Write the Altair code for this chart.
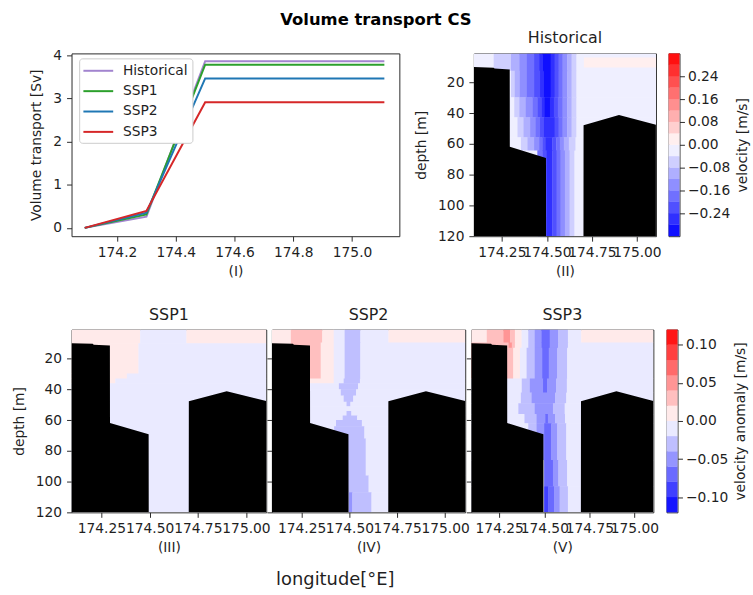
import altair as alt
import pandas as pd

FONT = "DejaVu Sans"
TXT = "#1f1f1f"
FRAME = "#2b2b2b"

# ------------------------------------------------------------------ data
# (I) volume transport [Sv]
TRANSPORT_LON = [174.09, 174.30, 174.50, 175.11]
TRANSPORT_HIST = [0.00, 0.26, 3.86, 3.86]
TRANSPORT_SSP1 = [0.00, 0.31, 3.78, 3.78]
TRANSPORT_SSP2 = [0.00, 0.35, 3.46, 3.46]
TRANSPORT_SSP3 = [0.00, 0.39, 2.91, 2.91]
SCENARIOS = ["Historical", "SSP1", "SSP2", "SSP3"]
SCENARIO_COLORS = ["#a284cf", "#2ca02c", "#1f77b4", "#d62728"]
TRANSPORT_LON_TICKS = [174.2, 174.4, 174.6, 174.8, 175.0]
TRANSPORT_TICKS = [0, 1, 2, 3, 4]

# sections
LON_DOMAIN = [174.095, 175.105]
DEPTH_DOMAIN = [1.1, 120.0]
SECTION_LON_TICKS = [174.25, 174.50, 174.75, 175.00]
DEPTH_TICKS = [20, 40, 60, 80, 100, 120]

# bathymetry (sea floor depth along the section)
BATHY_LON = [174.095, 174.205, 174.21, 174.294, 174.2945, 174.495, 174.4955,
             174.703, 174.7035, 174.90, 175.105]
BATHY_DEPTH = [10.0, 10.4, 11.0, 11.5, 61.9, 69.2, 120.0, 120.0, 47.8, 41.2, 47.5]

VEL_LEVELS = [-0.32, -0.28, -0.24, -0.20, -0.16, -0.12, -0.08, -0.04, 0.00,
              0.04, 0.08, 0.12, 0.16, 0.20, 0.24, 0.28, 0.32]
VEL_TICKS = [-0.24, -0.16, -0.08, 0.00, 0.08, 0.16, 0.24]
ANOM_LEVELS = [-0.12, -0.10, -0.08, -0.06, -0.04, -0.02, 0.00, 0.02, 0.04,
               0.06, 0.08, 0.10, 0.12]
ANOM_TICKS = [-0.10, -0.05, 0.00, 0.05, 0.10]

# velocity fields: (depth top, depth bottom, [(lon start, value), ...])
HIST_LAYERS = [
    (1.1, 12.4, [(174.095, -0.02), (174.205, -0.06), (174.301, -0.10), (174.347, -0.14),
                 (174.389, -0.18), (174.429, -0.22), (174.457, -0.26), (174.475, -0.30),
                 (174.521, -0.26), (174.543, -0.22), (174.565, -0.18), (174.587, -0.14),
                 (174.613, -0.10), (174.637, -0.06), (174.664, -0.02)]),
    (12.4, 29.7, [(174.095, -0.02), (174.301, -0.06), (174.322, -0.10), (174.350, -0.14),
                  (174.389, -0.18), (174.429, -0.22), (174.462, -0.26), (174.481, -0.30),
                  (174.521, -0.26), (174.543, -0.22), (174.565, -0.18), (174.587, -0.14),
                  (174.613, -0.10), (174.637, -0.06), (174.664, -0.02)]),
    (29.7, 42.6, [(174.095, -0.02), (174.319, -0.06), (174.347, -0.10), (174.383, -0.14),
                  (174.420, -0.18), (174.447, -0.22), (174.470, -0.26), (174.488, -0.30),
                  (174.517, -0.26), (174.539, -0.22), (174.561, -0.18), (174.587, -0.14),
                  (174.613, -0.10), (174.637, -0.06), (174.664, -0.02)]),
    (42.6, 55.6, [(174.095, -0.02), (174.337, -0.06), (174.370, -0.10), (174.407, -0.14),
                  (174.438, -0.18), (174.462, -0.22), (174.484, -0.26), (174.543, -0.22),
                  (174.565, -0.18), (174.587, -0.14), (174.613, -0.10), (174.637, -0.06),
                  (174.664, -0.02)]),
    (55.6, 64.3, [(174.095, -0.02), (174.356, -0.06), (174.392, -0.10), (174.429, -0.14),
                  (174.457, -0.18), (174.475, -0.22), (174.493, -0.26), (174.530, -0.22),
                  (174.552, -0.18), (174.572, -0.14), (174.594, -0.10), (174.622, -0.06),
                  (174.659, -0.02)]),
    (64.3, 120.0, [(174.095, -0.02), (174.447, -0.18), (174.475, -0.22), (174.499, -0.26),
                   (174.530, -0.22), (174.554, -0.18), (174.576, -0.14), (174.600, -0.10),
                   (174.626, -0.06), (174.653, -0.02)]),
]
HIST_PATCHES = [(174.705, 175.105, 3.8, 10.3, 0.02)]

SSP1_LAYERS = [
    (1.1, 10.0, [(174.095, 0.01), (174.451, -0.01), (174.691, 0.01)]),
    (10.0, 29.7, [(174.095, 0.01), (174.442, -0.01)]),
    (29.7, 33.0, [(174.095, 0.01), (174.382, -0.01)]),
    (33.0, 36.0, [(174.095, 0.01), (174.322, -0.01)]),
    (36.0, 120.0, [(174.095, -0.01)]),
]

SSP2_LAYERS = [
    (1.1, 9.5, [(174.095, 0.01), (174.194, 0.03), (174.358, 0.01), (174.418, -0.01),
                (174.475, -0.03), (174.557, -0.01), (174.704, 0.01)]),
    (9.5, 33.0, [(174.095, 0.01), (174.194, 0.03), (174.350, 0.01), (174.418, -0.01),
                 (174.475, -0.03), (174.557, -0.01)]),
    (33.0, 36.0, [(174.095, 0.01), (174.418, -0.01), (174.470, -0.03), (174.555, -0.01)]),
    (36.0, 40.0, [(174.095, -0.01), (174.445, -0.03), (174.545, -0.01)]),
    (40.0, 44.0, [(174.095, -0.01), (174.455, -0.03), (174.535, -0.01)]),
    (44.0, 48.0, [(174.095, -0.01), (174.470, -0.03), (174.520, -0.01)]),
    (48.0, 51.0, [(174.095, -0.01), (174.485, -0.03), (174.505, -0.01)]),
    (51.0, 54.0, [(174.095, -0.01)]),
    (54.0, 57.0, [(174.095, -0.01), (174.485, -0.03), (174.510, -0.01)]),
    (57.0, 60.0, [(174.095, -0.01), (174.465, -0.03), (174.540, -0.01)]),
    (60.0, 64.0, [(174.095, -0.01), (174.430, -0.03), (174.565, -0.01)]),
    (64.0, 72.0, [(174.095, -0.01), (174.420, -0.03), (174.578, -0.01)]),
    (72.0, 96.0, [(174.095, -0.01), (174.480, -0.03), (174.585, -0.01)]),
    (96.0, 107.0, [(174.095, -0.01), (174.480, -0.03), (174.600, -0.01)]),
    (107.0, 120.0, [(174.095, -0.01), (174.496, -0.05), (174.515, -0.03), (174.615, -0.01)]),
]

SSP3_LAYERS = [
    (1.1, 9.5, [(174.095, 0.01), (174.181, 0.03), (174.273, 0.05), (174.310, 0.03),
                (174.337, 0.01), (174.374, -0.01), (174.411, -0.03), (174.447, -0.05),
                (174.484, -0.07), (174.530, -0.05), (174.576, -0.03), (174.631, -0.01),
                (174.705, 0.01)]),
    (9.5, 13.0, [(174.095, 0.03), (174.301, 0.05), (174.320, 0.03), (174.337, 0.01),
                 (174.374, -0.01), (174.411, -0.03), (174.447, -0.05), (174.484, -0.07),
                 (174.530, -0.05), (174.576, -0.03), (174.631, -0.01)]),
    (13.0, 33.0, [(174.095, 0.03), (174.328, 0.01), (174.365, -0.01), (174.402, -0.03),
                  (174.447, -0.05), (174.488, -0.07), (174.525, -0.05), (174.572, -0.03),
                  (174.627, -0.01)]),
    (33.0, 42.0, [(174.095, -0.01), (174.375, -0.03), (174.420, -0.05), (174.493, -0.07),
                  (174.515, -0.05), (174.565, -0.03), (174.625, -0.01)]),
    (42.0, 49.0, [(174.095, -0.01), (174.370, -0.03), (174.430, -0.05), (174.560, -0.03),
                  (174.622, -0.01)]),
    (49.0, 56.0, [(174.095, -0.01), (174.356, -0.03), (174.447, -0.05), (174.548, -0.03),
                  (174.613, -0.01)]),
    (56.0, 62.0, [(174.095, -0.01), (174.390, -0.03), (174.457, -0.05), (174.505, -0.07),
                  (174.520, -0.05), (174.560, -0.03), (174.615, -0.01)]),
    (62.0, 86.0, [(174.095, -0.01), (174.411, -0.03), (174.457, -0.05), (174.499, -0.07),
                  (174.539, -0.05), (174.572, -0.03), (174.622, -0.01)]),
    (86.0, 103.0, [(174.095, -0.01), (174.499, -0.07), (174.548, -0.05), (174.578, -0.03),
                   (174.627, -0.01)]),
    (103.0, 120.0, [(174.095, -0.01), (174.499, -0.09), (174.521, -0.07), (174.554, -0.05),
                    (174.585, -0.03), (174.631, -0.01)]),
]

# ------------------------------------------------------------------ layout
H = 184
W_LINE = 330
W_SEC = 183.3
W_SSP1 = 196
W_SSP2 = 194.6
W_CB = 11
B_TOP = 69.5
B_BOT = 48
EPS_LON = 0.002   # small overlap so neighbouring cells leave no seam
EPS_D = 0.3


def bwr(t):
    t = min(max(t, 0.0), 1.0)
    if t <= 0.5:
        s = t / 0.5
        r, g, b = s, s, 1.0
    else:
        s = (t - 0.5) / 0.5
        r, g, b = 1.0, 1.0 - s, 1.0 - s
    return "#{:02x}{:02x}{:02x}".format(round(r * 255), round(g * 255), round(b * 255))


def band_colors(levels):
    lo, hi = levels[0], levels[-1]
    return [bwr(((a + b) / 2 - lo) / (hi - lo)) for a, b in zip(levels[:-1], levels[1:])]


def spacer(w, h, left=0.0, right=0.0, bottom=0.0):
    return alt.Chart(pd.DataFrame({"s": [0]})).mark_rule(opacity=0).encode(
        x=alt.value(-left), x2=alt.value(w + right),
        y=alt.value(0), y2=alt.value(h + bottom))


def panel_title(text):
    return alt.TitleParams(text, font=FONT, fontSize=16, fontWeight="normal",
                           color=TXT, offset=7, anchor="middle", frame="group")


bathy_df = pd.DataFrame({"lon": BATHY_LON, "depth": BATHY_DEPTH,
                         "bottom": [DEPTH_DOMAIN[1]] * len(BATHY_LON)})


def section(layers, patches, levels, title, xtitle, width, y_labels,
            left=0.0, right=0.0, bottom=0.0):
    rows = []
    for d0, d1, segs in layers:
        d1e = d1 + EPS_D if d1 < DEPTH_DOMAIN[1] else d1
        for i, (lon0, v) in enumerate(segs):
            lon1 = segs[i + 1][0] + EPS_LON if i + 1 < len(segs) else LON_DOMAIN[1]
            rows.append(dict(lon0=lon0, lon1=lon1, d0=d0, d1=d1e, v=v))
    for lon0, lon1, d0, d1, v in patches:
        rows.append(dict(lon0=lon0, lon1=lon1, d0=d0, d1=d1, v=v))
    field = pd.DataFrame(rows)
    cscale = alt.Scale(type="threshold", domain=levels[1:-1], range=band_colors(levels))
    xs = alt.Scale(domain=LON_DOMAIN, nice=False, zero=False)
    ys = alt.Scale(domain=DEPTH_DOMAIN, reverse=True, nice=False, zero=False)
    if y_labels:
        yaxis = alt.Axis(values=DEPTH_TICKS, title="depth [m]", labelPadding=5, titlePadding=9,
                         labelOverlap=False, format="d")
    else:
        yaxis = alt.Axis(values=DEPTH_TICKS, labels=False, title=None)
    xaxis = alt.Axis(values=SECTION_LON_TICKS, format=".2f", title=xtitle, labelOverlap=False)
    rects = alt.Chart(field).mark_rect(clip=True, strokeWidth=0).encode(
        x=alt.X("lon0:Q", scale=xs, axis=xaxis),
        x2="lon1:Q",
        y=alt.Y("d0:Q", scale=ys, axis=yaxis),
        y2="d1:Q",
        color=alt.Color("v:Q", scale=cscale, legend=None),
    )
    floor = alt.Chart(bathy_df).mark_area(color="black", clip=True).encode(
        x=alt.X("lon:Q", scale=xs, axis=xaxis),
        y=alt.Y("depth:Q", scale=ys, axis=yaxis),
        y2="bottom:Q")
    return alt.layer(rects, floor, spacer(width, H, left, right, bottom)).properties(
        width=width, height=H, title=panel_title(title))


def colorbar(levels, ticks, title, left=0.0, right=0.0, bottom=0.0):
    colors = band_colors(levels)
    span = levels[-1] - levels[0]
    df = pd.DataFrame({"lo": levels[:-1],
                       "hi": [h + 0.0015 * span if h < levels[-1] else h for h in levels[1:]],
                       "mid": [(a + b) / 2 for a, b in zip(levels[:-1], levels[1:])],
                       "c0": 0, "c1": 1})
    cscale = alt.Scale(type="threshold", domain=levels[1:-1], range=colors)
    bars = alt.Chart(df).mark_rect(strokeWidth=0).encode(
        x=alt.X("c0:Q", scale=alt.Scale(domain=[0, 1], nice=False, zero=False), axis=None),
        x2="c1:Q",
        y=alt.Y("lo:Q", scale=alt.Scale(domain=[levels[0], levels[-1]], nice=False, zero=False),
                axis=alt.Axis(orient="right", values=ticks, format=".2f", title=title,
                              titleAngle=270, titleBaseline="top", titlePadding=6,
                              labelPadding=3, labelOverlap=False)),
        y2="hi:Q",
        color=alt.Color("mid:Q", scale=cscale, legend=None),
    )
    return alt.layer(bars, spacer(W_CB, H, left, right, bottom)).properties(
        width=W_CB, height=H, title=panel_title(" "))


# ------------------------------------------------------------------ panel I
rows = []
for scen, vals in zip(SCENARIOS, [TRANSPORT_HIST, TRANSPORT_SSP1, TRANSPORT_SSP2, TRANSPORT_SSP3]):
    for lon, v in zip(TRANSPORT_LON, vals):
        rows.append({"scenario": scen, "lon": lon, "transport": v})
transport_df = pd.DataFrame(rows)

lines = alt.Chart(transport_df).mark_line(strokeWidth=2).encode(
    x=alt.X("lon:Q", scale=alt.Scale(domain=[174.045, 175.161], nice=False, zero=False),
            axis=alt.Axis(values=TRANSPORT_LON_TICKS, format=".1f", title="(I)")),
    y=alt.Y("transport:Q", scale=alt.Scale(domain=[-0.193, 4.04], nice=False, zero=False),
            axis=alt.Axis(values=TRANSPORT_TICKS, title="Volume transport [Sv]",
                          labelPadding=5, titlePadding=9)),
    color=alt.Color("scenario:N", scale=alt.Scale(domain=SCENARIOS, range=SCENARIO_COLORS),
                    legend=alt.Legend(title=None, orient="none", legendX=7.7, legendY=5,
                                      symbolType="M-1.1,0H2.9", symbolSize=225,
                                      symbolStrokeWidth=2, labelFont=FONT, labelFontSize=13.9,
                                      labelColor=TXT, labelOffset=23, padding=4,
                                      rowPadding=4.5, fillColor="white",
                                      strokeColor="#cccccc", cornerRadius=3)),
)
line_panel = alt.layer(lines, spacer(W_LINE, H, 64, 10, B_TOP)).properties(
    width=W_LINE, height=H, title=panel_title(" "))

hist_panel = section(HIST_LAYERS, HIST_PATCHES, VEL_LEVELS, "Historical", "(II)", W_SEC, True,
                     left=62.7, right=8, bottom=B_TOP)
cbar_top = colorbar(VEL_LEVELS, VEL_TICKS, "velocity [m/s]", left=3.5, right=73.5, bottom=B_TOP)
row1 = alt.hconcat(line_panel, hist_panel, cbar_top, spacing=0)

ssp1 = section(SSP1_LAYERS, [], ANOM_LEVELS, "SSP1", "(III)", W_SSP1, True,
               left=64.7, bottom=B_BOT)
ssp2 = section(SSP2_LAYERS, [], ANOM_LEVELS, "SSP2", "(IV)", W_SSP2, False, bottom=B_BOT)
ssp3 = section(SSP3_LAYERS, [], ANOM_LEVELS, "SSP3", "(V)", W_SEC, False, right=8, bottom=B_BOT)
sections = alt.hconcat(ssp1, ssp2, ssp3, spacing=5.7, bounds="flush",
                       title=alt.TitleParams("longitude[°E]", orient="bottom", font=FONT,
                                             fontSize=18, fontWeight="normal", color=TXT,
                                             offset=10.5, anchor="middle", dx=1))
cbar_bot = colorbar(ANOM_LEVELS, ANOM_TICKS, "velocity anomaly [m/s]", left=3.5, right=73.5,
                    bottom=B_BOT)
row2 = alt.hconcat(sections, cbar_bot, spacing=0)

chart = alt.vconcat(
    row1, row2, spacing=0,
    title=alt.TitleParams("Volume transport CS", font=FONT, fontSize=16.5, fontWeight="bold",
                          color="black", offset=-3.9, anchor="middle", dx=-4),
).properties(
    padding={"left": 6, "top": 9.8, "right": 0, "bottom": 0},
    background="white",
).configure_view(
    stroke=FRAME, strokeWidth=1
).configure_axis(
    labelFont=FONT, titleFont=FONT, labelFontSize=13.9, titleFontSize=13.9,
    titleFontWeight="normal", labelColor=TXT, titleColor=TXT, tickColor=FRAME,
    tickSize=5, tickWidth=1, domain=False, grid=False, labelOverlap=False,
    labelPadding=4, titlePadding=6,
)

chart.save("out.html", embed_options={"renderer": "svg", "actions": False})
